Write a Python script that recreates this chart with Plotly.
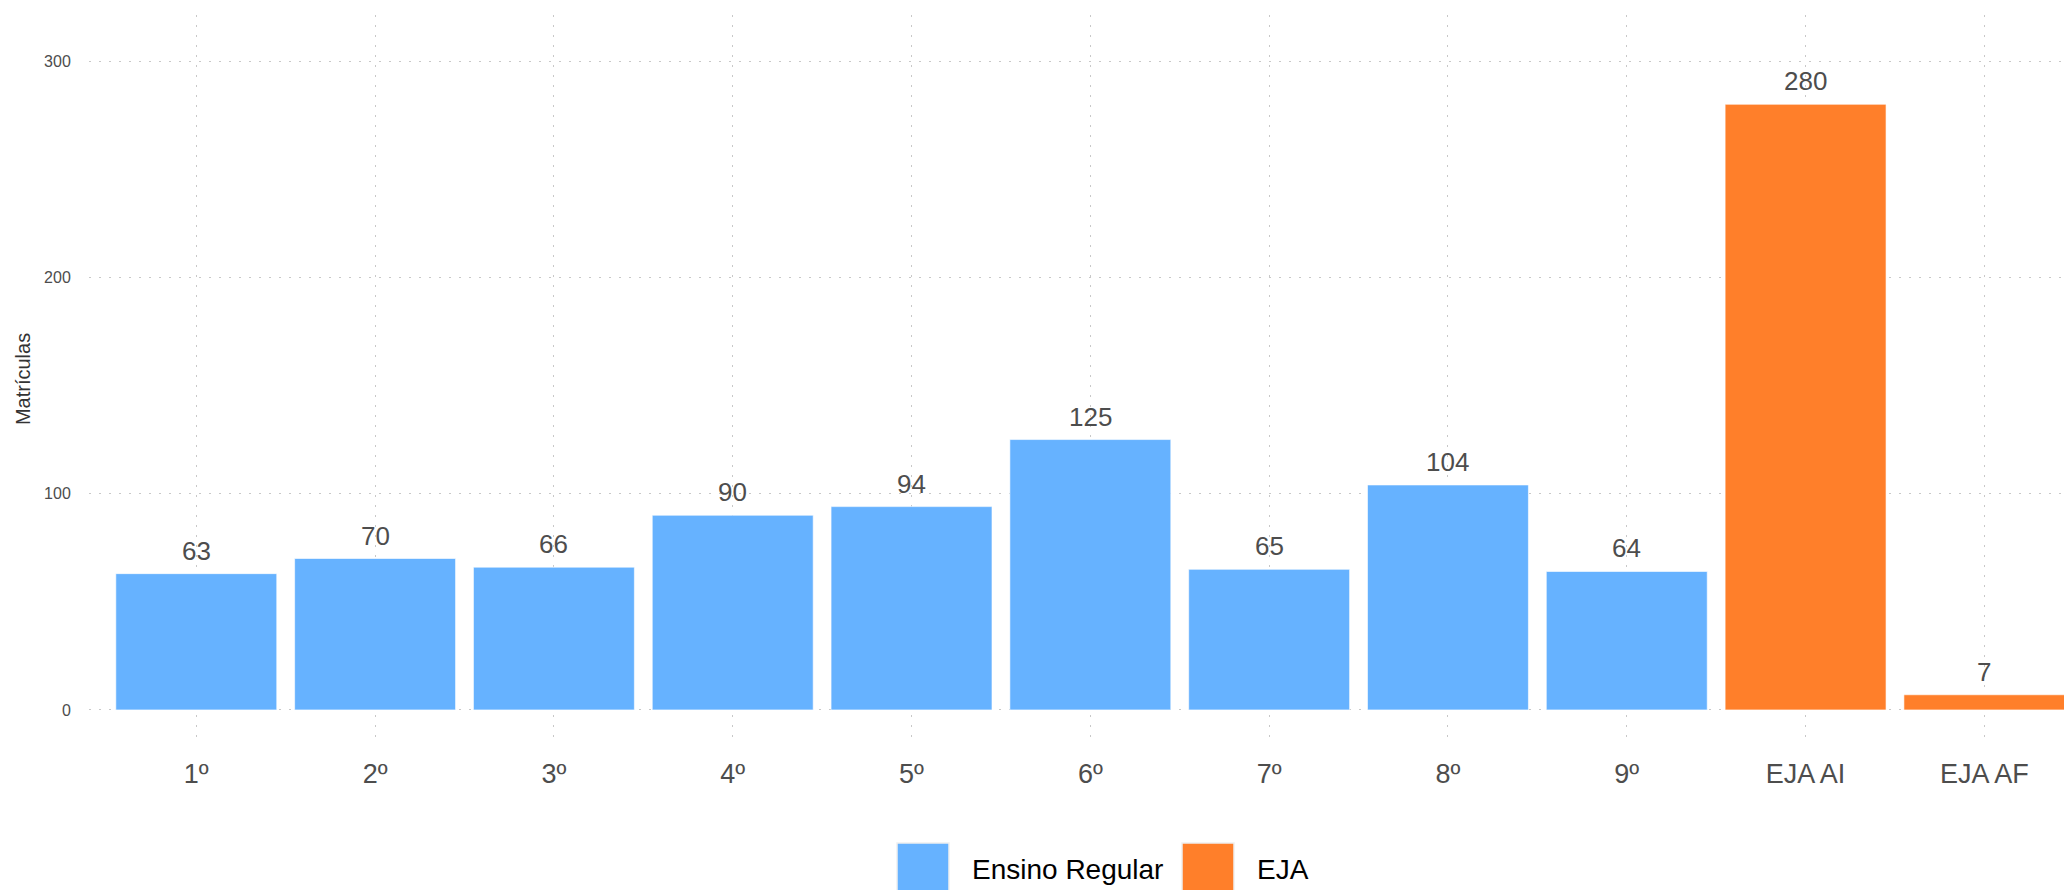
import plotly.graph_objects as go

categories = ["1º", "2º", "3º", "4º", "5º", "6º", "7º", "8º", "9º", "EJA AI", "EJA AF"]
values = [63, 70, 66, 90, 94, 125, 65, 104, 64, 280, 7]
groups = ["Ensino Regular"] * 9 + ["EJA", "EJA"]
group_colors = {"Ensino Regular": "#66B2FF", "EJA": "#FF7F2A"}
y_ticks = [0, 100, 200, 300]

W, H = 2072, 890
OFF = 8  # page body margin offset
ML, MR, MT, MB = 89 - OFF, OFF, 15 - OFF, 147 + OFF
PW, PH = W - ML - MR, H - MT - MB
FONT = "Liberation Sans, Arial, Helvetica, sans-serif"

fig = go.Figure()
for g in ["Ensino Regular", "EJA"]:
    xs = [c for c, gg in zip(categories, groups) if gg == g]
    ys = [v for v, gg in zip(values, groups) if gg == g]
    fig.add_trace(go.Bar(
        x=xs, y=ys, name=g, width=0.9,
        marker=dict(color=group_colors[g], line=dict(color="white", width=0.6)),
        showlegend=False,
    ))

for c, v in zip(categories, values):
    fig.add_annotation(x=c, y=v, text=str(v), showarrow=False, yanchor="bottom",
                       yshift=6, font=dict(family=FONT, size=26, color="#4d4d4d"))

# manual legend (large keys like the reference); positions in page pixels
def px_x(p):
    return (p - OFF - ML) / PW

def px_y(p):
    return (MT + PH - (p - OFF)) / PH

legend_items = [("Ensino Regular", 897, 970), ("EJA", 1182, 1255)]
for name, kx, tx in legend_items:
    fig.add_shape(type="rect", xref="paper", yref="paper",
                  x0=px_x(kx), x1=px_x(kx + 52), y0=px_y(843), y1=px_y(895),
                  fillcolor=group_colors[name], line=dict(color="#f0f0f0", width=1.5),
                  layer="above")
    fig.add_annotation(xref="paper", yref="paper", x=px_x(tx), y=px_y(869),
                       xanchor="left", yanchor="middle", text=name, showarrow=False,
                       font=dict(family=FONT, size=28, color="black"))

grid = dict(showgrid=True, gridcolor="#c8c8c8", griddash="2px,8px", gridwidth=1.2)
fig.update_xaxes(
    type="category", categoryorder="array", categoryarray=categories,
    range=[-0.6, 10.49], zeroline=False, showline=False,
    ticks="outside", ticklen=7, tickcolor="rgba(0,0,0,0)",
    tickfont=dict(family=FONT, size=27, color="#4d4d4d"), **grid,
)
fig.update_yaxes(
    range=[-15.3, 321.3], tickvals=y_ticks, zeroline=False, showline=False,
    ticks="outside", ticklen=14, tickcolor="rgba(0,0,0,0)",
    tickfont=dict(family=FONT, size=16, color="#4d4d4d"),
    title=dict(text="Matrículas", font=dict(family=FONT, size=20, color="#333333"), standoff=8),
    **grid,
)
fig.update_layout(
    width=W, height=H, autosize=False,
    margin=dict(l=ML, r=MR, t=MT, b=MB, pad=0),
    plot_bgcolor="white", paper_bgcolor="white",
    bargap=0.1, showlegend=False,
)
fig.write_html("out.html")
